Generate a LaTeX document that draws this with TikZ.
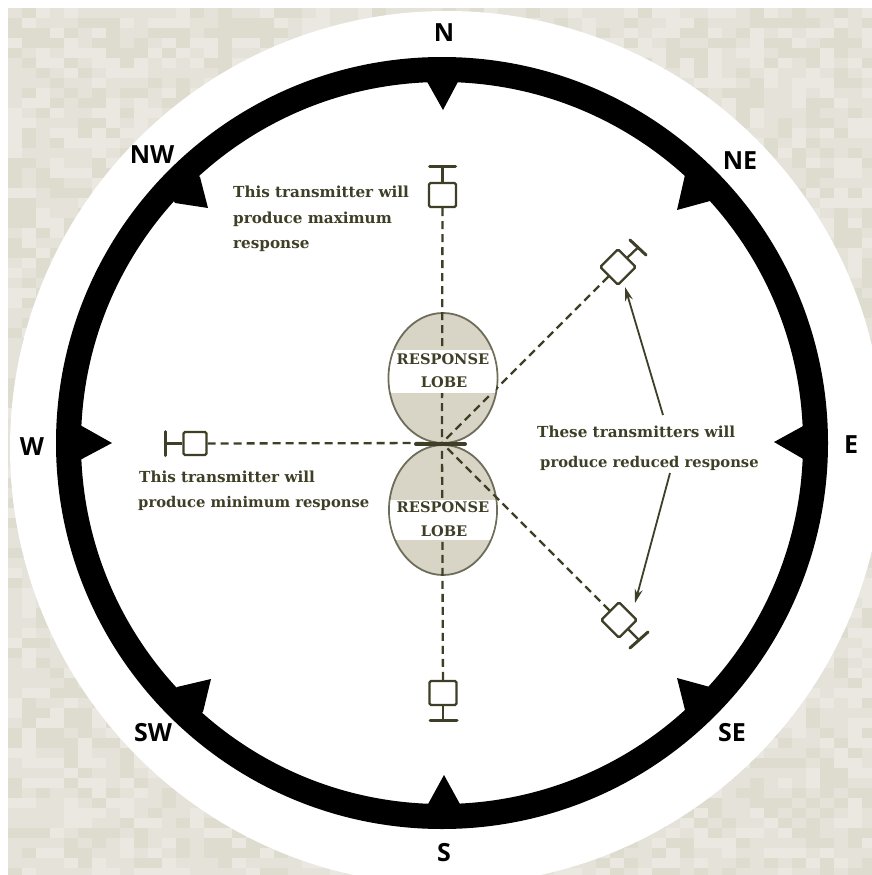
\documentclass[tikz,border=0pt]{standalone}
\usepackage{fontspec}
\setmainfont{Liberation Serif}
\newfontfamily\cmpfont{Open Sans}
\newfontfamily\capfont{DejaVu Serif}
\usetikzlibrary{arrows.meta,calc}
\definecolor{ink}{HTML}{3E3F26}
\definecolor{bgA}{HTML}{E4E2D9}
\definecolor{bgB}{HTML}{DEDBCF}
\definecolor{bgC}{HTML}{EAE8E1}
\definecolor{lobefill}{HTML}{D9D5C6}
\definecolor{lobeedge}{HTML}{6E6D5A}
\tikzset{
  cmp/.style={font=\cmpfont\bfseries\fontsize{25}{25}\selectfont,text=black,inner sep=0pt,anchor=center},
  note/.style={font=\capfont\bfseries\fontsize{15.2}{17}\selectfont,text=ink,inner sep=0pt,anchor=base west},
  notelong/.style={note,font=\capfont\bfseries\fontsize{14.75}{17}\selectfont},
  lobetxt/.style={font=\capfont\bfseries\fontsize{14.6}{16}\selectfont,text=ink,inner sep=0pt,anchor=base},
  sq/.style={draw=ink,line width=2.3pt,rounded corners=1.5pt,minimum size=25pt,inner sep=0pt,fill=white,shape=rectangle},
  endbar/.style={draw=ink,line width=3pt,line cap=round},
  stem/.style={draw=ink,line width=2.3pt},
  dsh/.style={draw=ink,line width=2.3pt,dash pattern=on 8pt off 5pt},
  lobe/.style={draw=lobeedge,line width=1.8pt,fill=lobefill},
  lead/.style={draw=ink,line width=1.8pt,-{Stealth[length=14pt,width=8pt]}},
  tick/.style={fill=black}
}
\begin{document}
\begin{tikzpicture}[x=1pt,y=-1pt]
\useasboundingbox (0,0) rectangle (872,875);
\fill[white] (0,0) rectangle (872,875);
% textured paper
\begin{scope}
\clip (8,8) rectangle (872,875);
\fill[bgA] (8,8) rectangle (872,875);
\pgfmathsetseed{7}
\foreach \i in {0,...,61}{
  \foreach \j in {0,...,86}{
    \pgfmathsetmacro{\r}{rnd}
    \pgfmathtruncatemacro{\k}{\r<0.3?1:(\r<0.6?2:0)}
    \ifnum\k=1 \fill[bgB] ({8+14*\i},{8+10*\j}) rectangle ++(14,10);\fi
    \ifnum\k=2 \fill[bgC] ({8+14*\i},{8+10*\j}) rectangle ++(14,10);\fi
  }
}
\end{scope}
\fill[white] (447,448) circle (437);
% ring
\coordinate (c) at (442,443);
\draw[black,line width=25pt] (c) circle (373.5);
\fill[tick] (425,78) -- (443,110) -- (460,78) -- cycle;
\fill[tick] (427,806) -- (444,775) -- (461,806) -- cycle;
\fill[tick] (80,425) -- (112,443) -- (80,460) -- cycle;
\fill[tick] (805,425) -- (774,442) -- (805,460) -- cycle;
\fill[tick] (685,175) -- (677,210) -- (710,201) -- (720,185) -- (700,165) -- cycle;
\fill[tick] (200,177) -- (208,208) -- (175,203) -- (165,185) -- (185,165) -- cycle;
\fill[tick] (177,687) -- (211,679) -- (203,712) -- (185,722) -- (165,700) -- cycle;
\fill[tick] (710,687) -- (677,678) -- (685,710) -- (700,722) -- (720,700) -- cycle;
% compass labels
\node[cmp] (lN) at (444,33) {N};
\node[cmp] (lS) at (444,853) {S};
\node[cmp] (lW) at (32,447) {W};
\node[cmp] (lE) at (851,445) {E};
\node[cmp] (lNW) at (152,155) {NW};
\node[cmp] (lNE) at (740,161) {NE};
\node[cmp] (lSW) at (153,733) {SW};
\node[cmp] (lSE) at (732,733) {SE};
% lobes
\draw[lobe] (443,378) ellipse [x radius=54.5,y radius=65];
\draw[lobe] (443,510) ellipse [x radius=54,y radius=65];
% transmitters
\node[sq,minimum width=27pt,minimum height=24pt] (tN) at (442.5,195) {};
\node[sq,minimum width=27pt,minimum height=24pt] (tS) at (443,693) {};
\node[sq,minimum size=23pt] (tW) at (195,443.5) {};
\node[sq,rotate=45] (tNE) at (618,267) {};
\node[sq,rotate=45] (tSE) at (619,620) {};
\coordinate (bN) at (442.5,166);
\coordinate (bS) at (443,720);
\coordinate (bW) at (165,443.5);
\coordinate (bNE) at (638,247.5);
\coordinate (bSE) at (639,640);
% dashed bearings
\draw[dsh] (tN) -- (c);
\draw[dsh] (tS) -- (c);
\draw[dsh] (tW) -- (c);
\draw[dsh] (tNE) -- (c);
\draw[dsh] (tSE) -- (c);
\draw[ink,line width=4pt,line cap=round] (416,444) -- (465,444);
% white bands inside lobes
\begin{scope}
\clip (443,378) ellipse [x radius=53.5,y radius=64];
\fill[white] (380,350) rectangle (510,393);
\end{scope}
\begin{scope}
\clip (443,510) ellipse [x radius=53,y radius=64];
\fill[white] (380,500) rectangle (510,540);
\end{scope}
\node[lobetxt] (r1) at (443,364) {RESPONSE};
\node[lobetxt] (l1) at (444,387) {LOBE};
\node[lobetxt] (r2) at (443,512) {RESPONSE};
\node[lobetxt] (l2) at (444,536) {LOBE};
% stems and bars
\draw[stem] (tN.north) -- (bN);
\draw[endbar] (429.5,166) -- (455.5,166);
\draw[stem] (tS.south) -- (bS);
\draw[endbar] (430,720) -- (457,720);
\draw[stem] (tW.west) -- (bW);
\draw[endbar] (165,431.5) -- (165,455.5);
\draw[stem] (tNE.east) -- (bNE);
\draw[endbar] (630,240) -- (646,255);
\draw[stem] (tSE.south) -- (bSE);
\draw[endbar] (630,648) -- (648,632);
% notes
\node[note] (n1) at (233,197) {This transmitter will};
\node[note] (n2) at (233,223) {produce maximum};
\node[note] (n3) at (233,248) {response};
\node[note] (n4) at (139,482) {This transmitter will};
\node[notelong] (n5) at (138,507) {produce minimum response};
\node[note] (n6) at (537,437) {These transmitters will};
\node[notelong] (n7) at (540,467) {produce reduced response};
% leaders
\coordinate (a1) at (663,415);
\coordinate (a2) at (625,287);
\coordinate (a3) at (670,473);
\coordinate (a4) at (635,603);
\draw[lead] (a1) -- (a2);
\draw[lead] (a3) -- (a4);
\end{tikzpicture}
\end{document}
